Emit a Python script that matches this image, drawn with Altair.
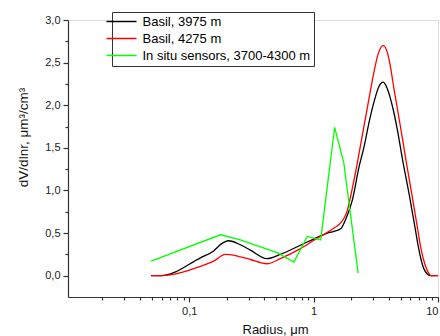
import altair as alt
import pandas as pd

# ---- data ----
series_names = ["Basil, 3975 m", "Basil, 4275 m", "In situ sensors, 3700-4300 m"]
series_colors = ["#000000", "#ff0000", "#00ff00"]

r_black = [0.0494, 0.0594, 0.123, 0.157, 0.18, 0.207, 0.26, 0.31, 0.42, 0.54, 0.79,
           1.07, 1.29, 1.46, 1.65, 1.81, 2.05, 2.32, 2.55, 2.79, 3.06, 3.35, 3.62,
           3.9, 4.18, 4.44, 4.73, 5.19, 5.87, 6.56, 6.99, 7.53, 8.2, 8.78, 9.95]
v_black = [0.0, 0.0, 0.21, 0.29, 0.37, 0.41, 0.36, 0.30, 0.20, 0.25, 0.36,
           0.45, 0.50, 0.52, 0.55, 0.66, 0.89, 1.28, 1.52, 1.80, 2.04, 2.22, 2.27,
           2.20, 2.06, 1.90, 1.70, 1.36, 0.95, 0.55, 0.32, 0.12, 0.02, 0.0, 0.0]

r_red = [0.0494, 0.0594, 0.123, 0.157, 0.195, 0.22, 0.26, 0.31, 0.42, 0.54, 0.79,
         1.07, 1.29, 1.46, 1.6, 1.87, 2.05, 2.25, 2.5, 2.75, 3.0, 3.3, 3.62,
         3.95, 4.18, 4.44, 4.73, 5.19, 5.52, 6.17, 6.86, 7.29, 7.9, 8.5, 8.78, 9.95]
v_red = [0.0, 0.0, 0.11, 0.17, 0.25, 0.245, 0.22, 0.19, 0.14, 0.20, 0.32,
         0.44, 0.51, 0.56, 0.60, 0.77, 1.03, 1.33, 1.70, 2.03, 2.33, 2.60, 2.70,
         2.60, 2.42, 2.18, 1.95, 1.60, 1.36, 0.95, 0.55, 0.32, 0.12, 0.02, 0.0, 0.0]

r_green = [0.0494, 0.178, 0.258, 0.31, 0.509, 0.694, 0.889, 1.14, 1.476, 1.75, 2.28]
v_green = [0.17, 0.48, 0.42, 0.38, 0.27, 0.16, 0.46, 0.42, 1.74, 1.32, 0.03]

x_major = [0.1, 1, 10]
x_minor = [0.02, 0.03, 0.04, 0.05, 0.06, 0.07, 0.08, 0.09,
           0.2, 0.3, 0.4, 0.5, 0.6, 0.7, 0.8, 0.9,
           2, 3, 4, 5, 6, 7, 8, 9]
y_major = [0.0, 0.5, 1.0, 1.5, 2.0, 2.5, 3.0]
y_minor = [0.25, 0.75, 1.25, 1.75, 2.25, 2.75]

rows = []
for name, rs, vs in [(series_names[0], r_black, v_black),
                     (series_names[1], r_red, v_red),
                     (series_names[2], r_green, v_green)]:
    for i, (r, v) in enumerate(zip(rs, vs)):
        rows.append({"series": name, "radius": r, "dv": v, "order": i})
df = pd.DataFrame(rows)

FONT = "Liberation Sans"
AX = "#333333"

xscale = alt.Scale(type="log", domain=[0.0106, 10])
yscale = alt.Scale(domain=[-0.25, 3.0], zero=False, nice=False)
color = alt.Color(
    "series:N",
    scale=alt.Scale(domain=series_names, range=series_colors),
    legend=alt.Legend(
        title=None, orient="none", legendX=44, legendY=-8,
        symbolType="M-4,0H4", symbolSize=56.25, symbolStrokeWidth=1.5,
        labelFontSize=13, labelFont=FONT, labelColor="black", labelLimit=400,
        strokeColor=AX, fillColor="white", padding=3, rowPadding=3,
        labelOffset=14.5, cornerRadius=0,
    ),
)

x_main = alt.X("radius:Q", scale=xscale, axis=alt.Axis(
    values=x_major, labelExpr="replace(format(datum.value, '~g'), '.', ',')",
    tickSize=5, labelPadding=3, labelFontSize=11, labelColor="#222222",
    domainColor=AX, tickColor=AX, domainWidth=1.2, tickWidth=1.2, grid=False,
    title="Radius, μm", titleFontSize=13, titleFontWeight="normal", titleColor="#111111",
    titleX=207, titleY=36, titleAlign="center", titleBaseline="alphabetic",
    orient="bottom"))
y_main = alt.Y("dv:Q", scale=yscale, axis=alt.Axis(
    values=y_major, labelExpr="replace(format(datum.value, '.1f'), '.', ',')",
    tickSize=5, labelPadding=3, labelFontSize=11, labelColor="#222222",
    domainColor=AX, tickColor=AX, domainWidth=1.2, tickWidth=1.2, grid=False,
    title="dV/dlnr, μm³/cm³", titleFontSize=13.5, titleFontWeight="normal",
    titleColor="#111111", titleAngle=270, titleX=-41, titleY=117,
    titleAlign="center", titleBaseline="alphabetic", orient="left"))

basil = alt.Chart(df).transform_filter(
    alt.FieldOneOfPredicate(field="series", oneOf=series_names[:2])
).mark_line(strokeWidth=1.3, interpolate="monotone").encode(
    x=x_main, y=y_main, color=color, order="order:Q")

green = alt.Chart(df).transform_filter(
    alt.FieldEqualPredicate(field="series", equal=series_names[2])
).mark_line(strokeWidth=1.3, interpolate="linear").encode(
    x=alt.X("radius:Q", scale=xscale, axis=None),
    y=alt.Y("dv:Q", scale=yscale, axis=None),
    color=color, order="order:Q")

minor = alt.Chart(df).mark_point(opacity=0).encode(
    x=alt.X("radius:Q", scale=xscale, axis=alt.Axis(
        values=x_minor, labels=False, domain=False, tickSize=3, tickColor=AX,
        tickWidth=1.2, grid=False, title=None, orient="bottom")),
    y=alt.Y("dv:Q", scale=yscale, axis=alt.Axis(
        values=y_minor, labels=False, domain=False, tickSize=3, tickColor=AX,
        tickWidth=1.2, grid=False, title=None, orient="left")),
)

chart = alt.layer(basil, green, minor).resolve_axis(
    x="independent", y="independent"
).properties(
    width=370, height=277,
    autosize=alt.AutoSizeParams(type="none"),
    padding={"left": 68, "top": 20, "right": 2, "bottom": 39},
).configure_view(strokeWidth=0).configure(font=FONT, background="white")

chart.save("out.html", embed_options={"renderer": "svg", "actions": False})
